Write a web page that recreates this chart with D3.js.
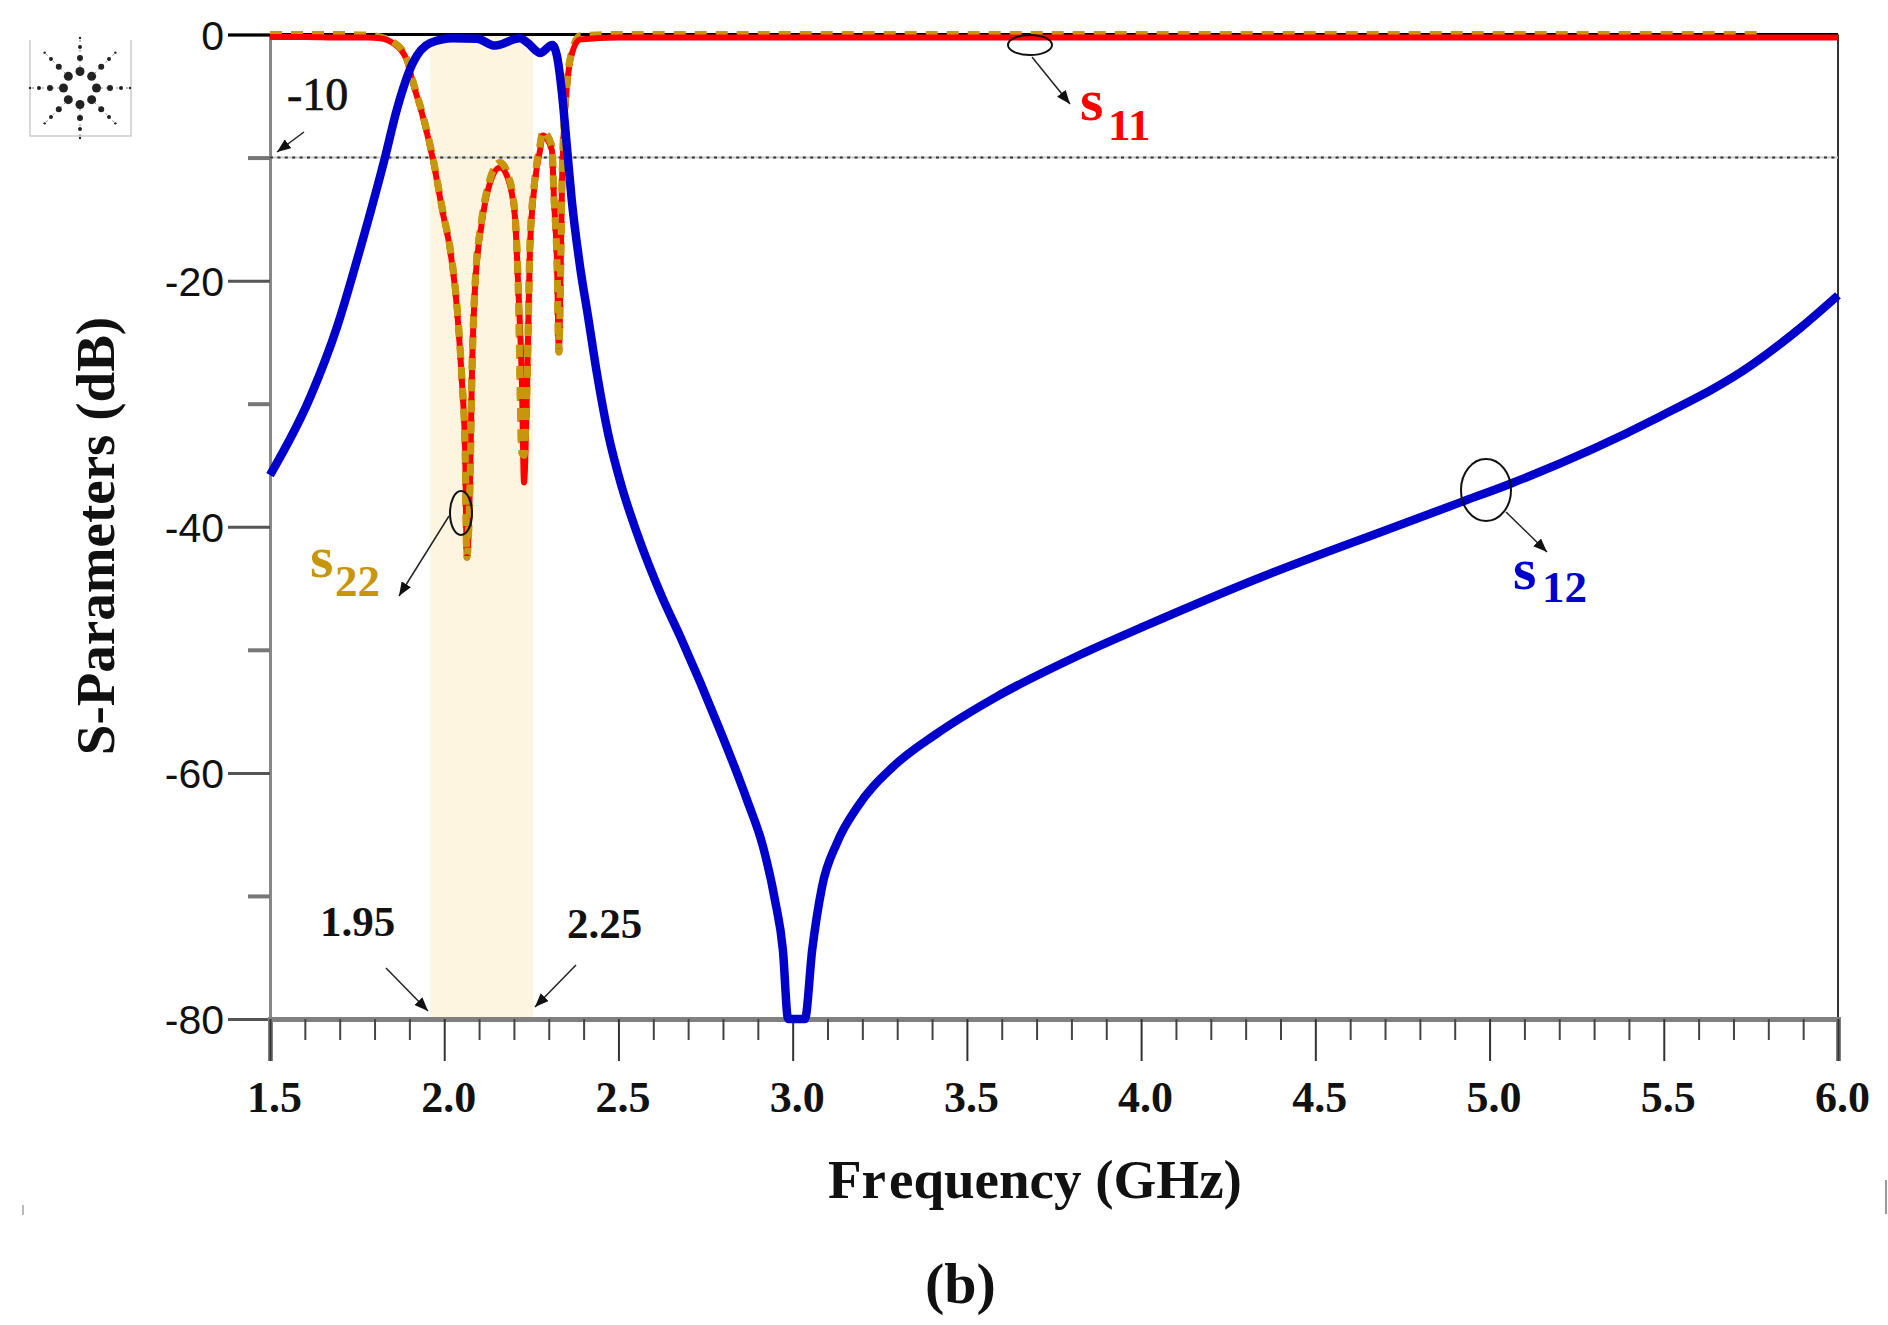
<!DOCTYPE html>
<html>
<head>
<meta charset="utf-8">
<script src="https://d3js.org/d3.v7.min.js"></script>
<style>
  html, body { margin: 0; padding: 0; background: #fff; }
  svg { display: block; }
</style>
</head>
<body>
<div id="chart"></div>
<script>
// S11 / S22 frequency grid (GHz)
var freqS = [1.5, 1.6, 1.7, 1.78, 1.816, 1.853, 1.893, 1.91, 1.939, 1.968, 1.996, 2.017, 2.037, 2.051, 2.06, 2.065, 2.074, 2.08, 2.088, 2.108, 2.131, 2.16, 2.183, 2.203, 2.212, 2.223, 2.229, 2.238, 2.246, 2.26, 2.275, 2.283, 2.309, 2.315, 2.324, 2.329, 2.335, 2.338, 2.341, 2.352, 2.367, 2.39, 2.5, 3.0, 4.0, 5.0, 5.77];
var s11 = [-0.2, -0.2, -0.25, -0.25, -0.3, -0.7, -2.1, -3.9, -6.7, -10.2, -14.5, -17.5, -22.4, -28.3, -33.8, -42.5, -36.4, -27, -20.8, -15.3, -12.1, -10.8, -11.7, -14.8, -20.2, -28.3, -36.4, -28.3, -17.5, -12.1, -9.4, -8.2, -9.4, -13.4, -18.9, -25.8, -17.5, -12.1, -9.4, -4.3, -1.5, -0.4, -0.25, -0.25, -0.25, -0.25, -0.25];
var s22 = [0, 0, 0, -0.05, -0.2, -0.6, -2, -3.8, -6.6, -10.1, -14.4, -17.4, -22.2, -28.1, -33.6, -42.5, -36.4, -27, -20.6, -15, -11.8, -10.4, -11.4, -14.6, -20, -34, -34.2, -28, -17.2, -11.8, -9, -7.9, -9.1, -13.2, -18.8, -25.8, -17.5, -12, -9.2, -4.1, -1.3, -0.1, 0, 0, 0, 0, 0];

var freq12 = [1.5, 1.615, 1.692, 1.758, 1.83, 1.864, 1.91, 1.959, 2.025, 2.094, 2.146, 2.217, 2.24, 2.275, 2.31, 2.324, 2.338, 2.352, 2.366, 2.39, 2.413, 2.438, 2.47, 2.51, 2.553, 2.625, 2.677, 2.791, 2.869, 2.915, 2.949, 2.972, 2.987, 3.035, 3.056, 3.084, 3.127, 3.185, 3.288, 3.414, 3.586, 3.825, 4.008, 4.353, 4.7, 4.918, 5.06, 5.478, 5.75, 5.894, 6.0];
var s12 = [-35.8, -29.5, -23.8, -17.5, -10, -6.1, -2.3, -0.7, -0.3, -0.35, -0.9, -0.3, -0.7, -1.5, -0.85, -1.8, -4.8, -9.1, -13.45, -18.9, -22.96, -27.5, -32.4, -36.8, -40.5, -45.7, -48.9, -56.5, -62.2, -66, -70.3, -74.4, -80, -80, -74.4, -69.3, -65.7, -62.8, -59.5, -56.8, -53.8, -50.4, -48.1, -44, -40.3, -38, -36.5, -31.2, -26.9, -23.8, -21.2];

var xMajor = [1.5, 2, 2.5, 3, 3.5, 4, 4.5, 5, 5.5, 6];
var xMinor = [1.6, 1.7, 1.8, 1.9, 2.1, 2.2, 2.3, 2.4, 2.6, 2.7, 2.8, 2.9, 3.1, 3.2, 3.3, 3.4, 3.6, 3.7, 3.8, 3.9, 4.1, 4.2, 4.3, 4.4, 4.6, 4.7, 4.8, 4.9, 5.1, 5.2, 5.3, 5.4, 5.6, 5.7, 5.8, 5.9];
var yMajor = [0, -20, -40, -60, -80];
var yMinor = [-10, -30, -50, -70];
var band = [1.96, 2.255];
var limit = -10;

var svg = d3.select("#chart").append("svg")
  .attr("width", 1888)
  .attr("height", 1325);

var x = d3.scaleLinear().domain([1.5, 6]).range([270, 1838]);
var y = d3.scaleLinear().domain([0, -80]).range([34.5, 1019]);

var serif = "'Liberation Serif', serif";
var sans = "'Liberation Sans', sans-serif";

svg.append("defs").append("marker")
  .attr("id", "arrow")
  .attr("viewBox", "0 0 10 8")
  .attr("refX", 10).attr("refY", 4)
  .attr("markerWidth", 14).attr("markerHeight", 11)
  .attr("markerUnits", "userSpaceOnUse")
  .attr("orient", "auto")
  .append("path").attr("d", "M0,0L10,4L0,8z").attr("fill", "#111");

// Pass band
svg.append("rect")
  .attr("x", x(band[0])).attr("width", x(band[1]) - x(band[0]))
  .attr("y", y(0)).attr("height", y(-80) - y(0) + 2)
  .attr("fill", "#fef5e1");

// Y axis
var yMajorAxis = svg.append("g")
  .attr("transform", "translate(" + x(1.5) + ",0)")
  .call(d3.axisLeft(y).tickValues(yMajor).tickSize(42).tickFormat(d3.format("d")));
yMajorAxis.select(".domain").attr("stroke", "#888").attr("stroke-width", 3);
yMajorAxis.selectAll("line").attr("stroke", function(d) { return d == 0 ? "#000" : "#555"; }).attr("stroke-width", 3);
yMajorAxis.selectAll("text")
  .attr("x", -46).attr("dy", "0.36em")
  .style("font-family", sans).style("font-size", "41px").attr("fill", "#111")
  .text(function(d) { return d == 0 ? "0" : "-" + Math.abs(d); });

var yMinorAxis = svg.append("g")
  .attr("transform", "translate(" + x(1.5) + ",0)")
  .call(d3.axisLeft(y).tickValues(yMinor).tickSize(22).tickFormat(""));
yMinorAxis.select(".domain").remove();
yMinorAxis.selectAll("line").attr("stroke", "#777").attr("stroke-width", 4);

// Frame lines
svg.append("line")
  .attr("x1", x(1.5)).attr("x2", x(6)).attr("y1", y(0)).attr("y2", y(0))
  .attr("stroke", "#000").attr("stroke-width", 3);
svg.append("line")
  .attr("x1", x(6)).attr("x2", x(6)).attr("y1", y(0)).attr("y2", y(-80))
  .attr("stroke", "#333").attr("stroke-width", 2);
svg.append("line")
  .attr("x1", x(1.5)).attr("x2", x(6)).attr("y1", y(limit)).attr("y2", y(limit))
  .attr("stroke", "#ccc").attr("stroke-width", 2);
svg.append("line")
  .attr("x1", x(1.5)).attr("x2", x(6)).attr("y1", y(limit)).attr("y2", y(limit))
  .attr("stroke", "#333").attr("stroke-width", 2).attr("stroke-dasharray", "3,4.4");

// X axis
var xMajorAxis = svg.append("g")
  .attr("transform", "translate(0," + y(-80) + ")")
  .call(d3.axisBottom(x).tickValues(xMajor).tickSize(42).tickFormat(d3.format(".1f")));
xMajorAxis.select(".domain").attr("stroke", "#808080").attr("stroke-width", 5);
xMajorAxis.selectAll("line").attr("stroke", "#333").attr("stroke-width", 2);
xMajorAxis.selectAll("text")
  .attr("y", 69).attr("dx", 4).attr("dy", 24)
  .style("font-family", serif).style("font-size", "44px").style("font-weight", "bold").attr("fill", "#111");

var xMinorAxis = svg.append("g")
  .attr("transform", "translate(0," + y(-80) + ")")
  .call(d3.axisBottom(x).tickValues(xMinor).tickSize(21).tickFormat(""));
xMinorAxis.select(".domain").remove();
xMinorAxis.selectAll("line").attr("stroke", "#444").attr("stroke-width", 2);

// Curves
var lineS = d3.line()
  .x(function(d, i) { return x(freqS[i]); })
  .y(function(d) { return y(d); })
  .curve(d3.curveMonotoneX);

var goldDash = "12,9";

// gold sits under the red outside the pass band, on top of it inside
svg.append("path").datum(s22)
  .attr("d", lineS).attr("fill", "none")
  .attr("stroke", "#c8960c").attr("stroke-width", 7).attr("stroke-dasharray", goldDash);

svg.append("path").datum(s11)
  .attr("d", lineS).attr("fill", "none")
  .attr("stroke", "#ff0000").attr("stroke-width", 6);

svg.append("line")
  .attr("x1", x(freqS[freqS.length - 1])).attr("x2", x(6))
  .attr("y1", y(-0.25)).attr("y2", y(-0.25))
  .attr("stroke", "#ff0000").attr("stroke-width", 6);

var first = freqS.indexOf(1.853), last = freqS.indexOf(2.367);
var lineGold = d3.line()
  .x(function(d, i) { return x(freqS[first + i]); })
  .y(function(d) { return y(d); })
  .curve(d3.curveMonotoneX);
svg.append("path").datum(s22.slice(first, last + 1))
  .attr("d", lineGold).attr("fill", "none")
  .attr("stroke", "#c8960c").attr("stroke-width", 7).attr("stroke-dasharray", goldDash);

var line12 = d3.line()
  .x(function(d, i) { return x(freq12[i]); })
  .y(function(d) { return y(d); })
  .curve(d3.curveMonotoneX);
svg.append("path").datum(s12)
  .attr("d", line12).attr("fill", "none")
  .attr("stroke", "#0000cc").attr("stroke-width", 8.5);

// Annotations
function arrow(x1, y1, x2, y2) {
  svg.append("line")
    .attr("x1", x1).attr("y1", y1).attr("x2", x2).attr("y2", y2)
    .attr("stroke", "#222").attr("stroke-width", 1.5)
    .attr("marker-end", "url(#arrow)");
}
function ellipse(cx, cy, rx, ry) {
  svg.append("ellipse")
    .attr("cx", cx).attr("cy", cy).attr("rx", rx).attr("ry", ry)
    .attr("fill", "none").attr("stroke", "#111").attr("stroke-width", 2);
}
function label(txt, lx, ly, size, color, weight) {
  return svg.append("text")
    .attr("x", lx).attr("y", ly)
    .style("font-family", serif).style("font-size", size + "px").style("font-weight", weight || "bold")
    .attr("fill", color).text(txt);
}

arrow(304, 132, 277, 152);
label("-10", 287, 110, 46, "#111", "normal").attr("stroke", "#111").attr("stroke-width", 0.7);

arrow(386, 968, 428, 1011);
label("1.95", 320, 936, 43, "#111");
arrow(576, 965, 535, 1007);
label("2.25", 567, 938, 43, "#111");

ellipse(1030, 45, 22, 10);
arrow(1032, 57, 1070, 104);
label("s", 1080, 120, 60, "#ff0000");
label("11", 1108, 140, 45, "#ff0000");

ellipse(1486, 490, 25, 31);
arrow(1506, 512, 1547, 552);
label("s", 1513, 589, 60, "#0000cc");
label("12", 1542, 602, 45, "#0000cc");

ellipse(461, 513, 11, 22);
arrow(449, 516, 399, 596);
label("s", 310, 577, 60, "#c8960c");
label("22", 335, 596, 45, "#c8960c");

// Titles
var freqTitle = label("Fr", 828, 1198, 55, "#111");
freqTitle.append("tspan").attr("dx", 4).text("equency (GHz)");
svg.append("text")
  .attr("transform", "translate(114,536)rotate(-90)")
  .attr("text-anchor", "middle")
  .style("font-family", serif).style("font-size", "55px").style("font-weight", "bold")
  .attr("fill", "#111").text("S-Parameters (dB)");
label("(b)", 925, 1303, 58, "#111");

// Agilent logo
var logo = svg.append("g").attr("transform", "translate(80,88)");
logo.append("path")
  .attr("d", "M-50,-48V48H51V-48")
  .attr("fill", "none").attr("stroke", "#ccc").attr("stroke-width", 1.5);
d3.range(8).forEach(function(k) {
  var a = k * Math.PI / 4;
  logo.append("line")
    .attr("x1", 16 * Math.cos(a)).attr("y1", 16 * Math.sin(a))
    .attr("x2", 50 * Math.cos(a)).attr("y2", 50 * Math.sin(a))
    .attr("stroke", "#888").attr("stroke-width", 1).attr("stroke-dasharray", "2,3");
  [[16.5, 4.5], [30, 3], [41, 2], [50, 1.2]].forEach(function(p) {
    logo.append("circle")
      .attr("cx", p[0] * Math.cos(a)).attr("cy", p[0] * Math.sin(a)).attr("r", p[1])
      .attr("fill", "#222");
  });
});

// scan leftovers at the edges
svg.append("line").attr("x1", 23).attr("x2", 23).attr("y1", 1205).attr("y2", 1215)
  .attr("stroke", "#bbb").attr("stroke-width", 2);
svg.append("line").attr("x1", 1886).attr("x2", 1886).attr("y1", 1180).attr("y2", 1214)
  .attr("stroke", "#999").attr("stroke-width", 2);
</script>
</body>
</html>
